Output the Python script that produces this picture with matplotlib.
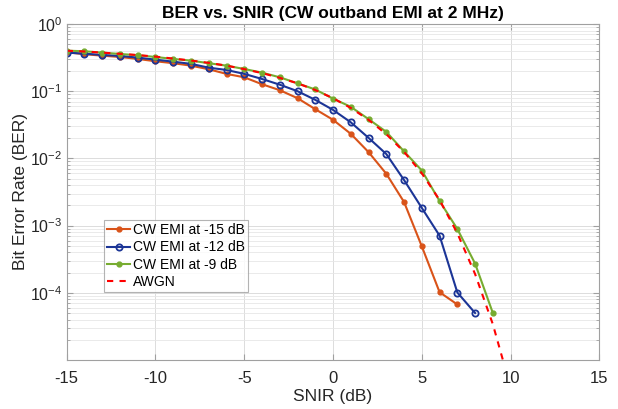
import matplotlib
matplotlib.use("Agg")
import matplotlib.pyplot as plt
from matplotlib.ticker import LogLocator, NullFormatter, FixedLocator

plt.rcParams['font.family'] = ['Liberation Sans', 'DejaVu Sans']
plt.rcParams['mathtext.fontset'] = 'custom'
plt.rcParams['mathtext.rm'] = 'Liberation Sans'
plt.rcParams['mathtext.it'] = 'Liberation Sans:italic'
plt.rcParams['mathtext.bf'] = 'Liberation Sans:bold'

snir_15 = list(range(-15, 8))
ber_15 = [0.38, 0.355, 0.338, 0.323, 0.302, 0.279, 0.261, 0.240, 0.212, 0.181,
          0.161, 0.127, 0.1035, 0.0787, 0.054, 0.0375, 0.0232, 0.0124, 0.0059,
          0.00224, 0.00049, 0.000102, 6.7e-5]

snir_12 = list(range(-15, 9))
ber_12 = [0.375, 0.362, 0.346, 0.335, 0.316, 0.295, 0.275, 0.255, 0.224, 0.207,
          0.181, 0.152, 0.125, 0.100, 0.0743, 0.0527, 0.0344, 0.0202, 0.0116,
          0.00476, 0.00183, 0.000708, 0.000101, 5.0e-5]

snir_9 = list(range(-15, 10))
ber_9 = [0.401, 0.393, 0.375, 0.358, 0.343, 0.323, 0.302, 0.285, 0.261, 0.240,
         0.214, 0.189, 0.161, 0.131, 0.106, 0.0776, 0.0585, 0.0384, 0.0248,
         0.0127, 0.0066, 0.00232, 0.00089, 0.000272, 5.0e-5]

snir_awgn = list(range(-15, 11))
ber_awgn = [0.40, 0.39, 0.375, 0.36, 0.345, 0.327, 0.306, 0.286, 0.264, 0.24,
            0.213, 0.186, 0.158, 0.131, 0.104, 0.0786, 0.0563, 0.0375, 0.0229,
            0.0125, 0.006, 0.0024, 0.00077, 0.00019, 3.4e-5, 3.9e-6]

labels = ['CW EMI at -15 dB', 'CW EMI at -12 dB', 'CW EMI at -9 dB', 'AWGN']
title = 'BER vs. SNIR (CW outband EMI at 2 MHz)'
xticks = [-15, -10, -5, 0, 5, 10, 15]
yticks = [1e-4, 1e-3, 1e-2, 1e-1, 1e0]

c_orange = '#D95319'
c_blue = '#1C3596'
c_green = '#77AC30'
c_red = '#FF0000'

fig = plt.figure(figsize=(6.18, 4.09), dpi=100)
ax = fig.add_axes([66.7/618, 1-360/409, 532.7/618, 336/409])

ax.semilogy(snir_15, ber_15, '-', color=c_orange, lw=1.5, marker='.', ms=7,
            label=labels[0])
ax.semilogy(snir_12, ber_12, '-', color=c_blue, lw=1.5, marker='o', ms=4.5,
            mfc='none', mew=1.3, label=labels[1])
ax.semilogy(snir_9, ber_9, '-', color=c_green, lw=1.5, marker='.', ms=7,
            label=labels[2])
ax.semilogy(snir_awgn, ber_awgn, '--', color=c_red, lw=1.5, dashes=(3, 3),
            label=labels[3])

ax.set_xlim(-15, 15)
ax.set_ylim(1e-5, 1)
ax.set_xticks(xticks)
ax.set_xticklabels([str(t) for t in xticks])
ax.yaxis.set_major_locator(FixedLocator(yticks))
ax.yaxis.set_minor_locator(LogLocator(base=10, subs=range(2, 10), numticks=20))
ax.yaxis.set_minor_formatter(NullFormatter())

ax.grid(True, which='major', color='#dcdcdc', lw=0.7)
ax.grid(True, which='minor', axis='y', color='#e6e6e6', lw=0.6)
ax.set_axisbelow(True)

for s in ax.spines.values():
    s.set_color('#a0a0a0')
    s.set_linewidth(0.8)
ax.tick_params(which='both', direction='in', top=True, right=True,
               colors='#a0a0a0', labelcolor='#262626')
ax.tick_params(which='major', length=4)
ax.tick_params(which='minor', length=2)
ax.tick_params(axis='x', which='major', pad=8, labelsize=12)
ax.tick_params(axis='y', which='major', pad=3, labelsize=11.5)

ax.set_title(title, fontsize=12.5, fontweight='bold', pad=4)
ax.set_xlabel('SNIR (dB)', fontsize=12.5, color='#262626', labelpad=2)
ax.set_ylabel('Bit Error Rate (BER)', fontsize=12.5, color='#262626')
ax.yaxis.set_label_coords(-0.072, 0.5)

leg = ax.legend(loc='lower left', bbox_to_anchor=(0.070, 0.202), fontsize=10,
                frameon=True, fancybox=False, edgecolor='#a0a0a0',
                borderpad=0.2, labelspacing=0.25, handlelength=1.7,
                handletextpad=0.2, borderaxespad=0)
leg.get_frame().set_linewidth(0.8)

fig.savefig('out.png', dpi=100)
